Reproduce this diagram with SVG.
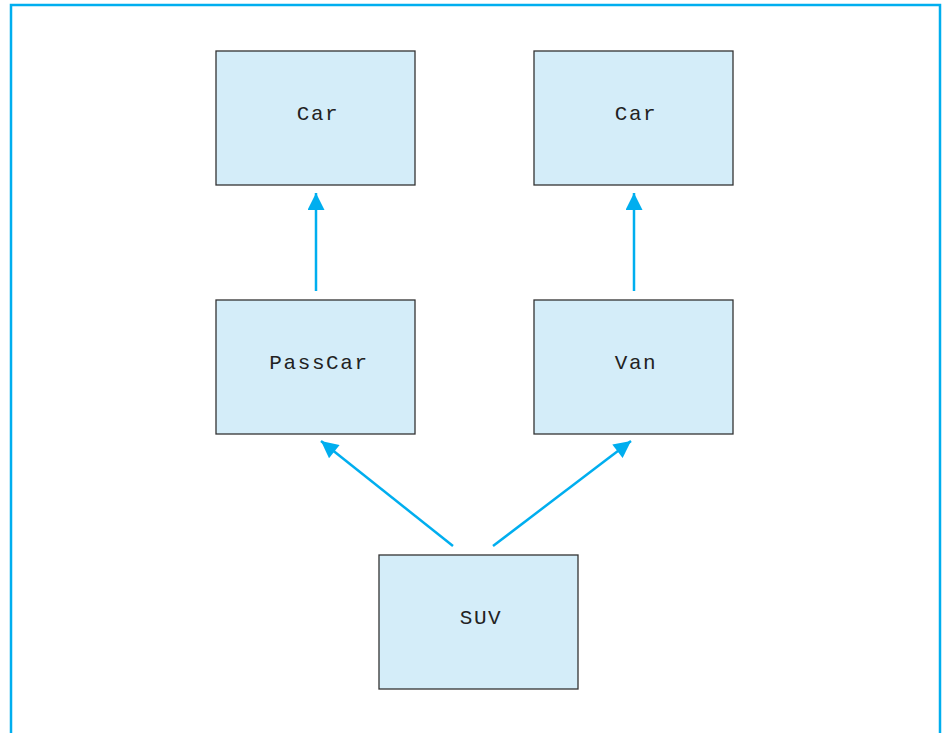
<svg xmlns="http://www.w3.org/2000/svg" width="944" height="733" viewBox="0 0 944 733">
<style>
.box{fill:#d4edf9;stroke:#333;stroke-width:1.3}
.lbl{font-family:"Liberation Mono","Courier New",monospace;font-size:21px;fill:#222;text-anchor:middle;letter-spacing:1.6px}
.conn{stroke:#00aeef;stroke-width:2.5;fill:none;marker-end:url(#ah)}
</style>
<defs>
<marker id="ah" viewBox="0 0 10 10" refX="10" refY="5" markerWidth="18" markerHeight="17" markerUnits="userSpaceOnUse" orient="auto">
<path d="M0,0 L10,5 L0,10 z" fill="#00aeef"/>
</marker>
</defs>
<rect x="0" y="0" width="944" height="733" fill="#fff"/>
<path d="M11,740 V5 H940 V740" fill="none" stroke="#00aeef" stroke-width="2.5"/>
<g id="connectors">
<line class="conn" x1="316" y1="291" x2="316" y2="193"/>
<line class="conn" x1="634" y1="291" x2="634" y2="193"/>
<line class="conn" x1="453" y1="546" x2="321" y2="441"/>
<line class="conn" x1="493" y1="546" x2="631" y2="441"/>
</g>
<g id="car1"><rect class="box" x="216" y="51" width="199" height="134"/><text class="lbl" x="318" y="120">Car</text></g>
<g id="car2"><rect class="box" x="534" y="51" width="199" height="134"/><text class="lbl" x="636" y="120">Car</text></g>
<g id="passcar"><rect class="box" x="216" y="300" width="199" height="134"/><text class="lbl" x="319" y="369">PassCar</text></g>
<g id="van"><rect class="box" x="534" y="300" width="199" height="134"/><text class="lbl" x="636" y="369">Van</text></g>
<g id="suv"><rect class="box" x="379" y="555" width="199" height="134"/><text class="lbl" x="481" y="624">SUV</text></g>
</svg>
